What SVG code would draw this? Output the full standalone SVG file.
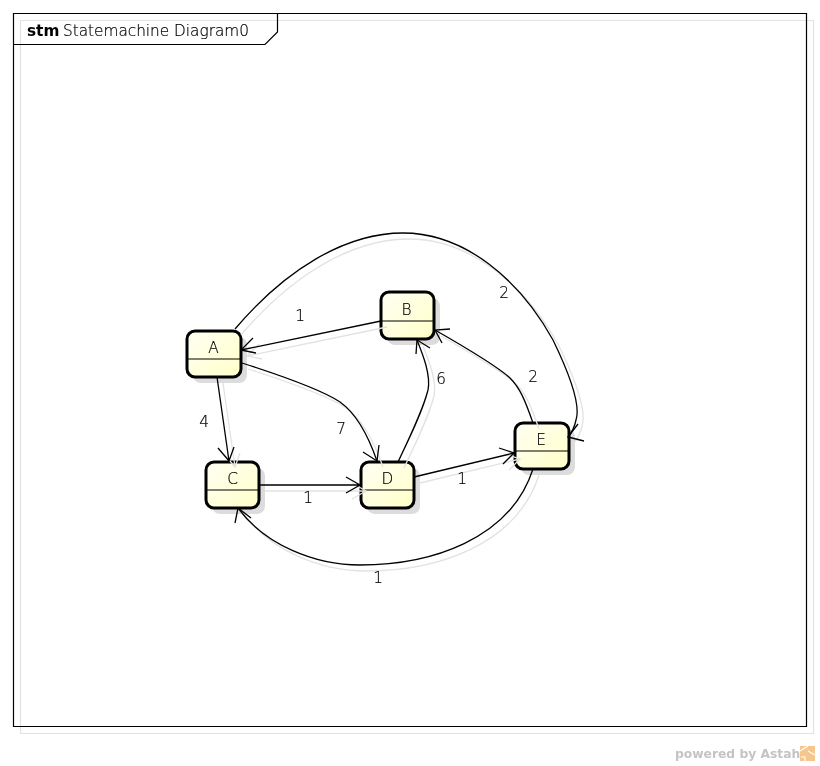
<svg xmlns="http://www.w3.org/2000/svg" width="820" height="766" viewBox="0 0 820 766">
<style>
text{font-family:"DejaVu Sans",sans-serif;font-size:15.3px;font-weight:200;fill:#000;stroke:#000;stroke-width:.2;filter:url(#n)}
.c{text-anchor:middle}
.body{fill:url(#g);stroke:#000;stroke-width:3}
.sh{fill:#dcdcdc}
.div{stroke:#000;stroke-width:1.2}
#edges path,#heads path{fill:none;stroke-width:1.3}
</style>
<defs>
<filter id="n" x="-20%" y="-20%" width="140%" height="140%"><feOffset dx="0" dy="0"/></filter>
<linearGradient id="g" x1="0" y1="0" x2="1" y2="1"><stop offset="0" stop-color="#fffff4"/><stop offset="1" stop-color="#ffffc8"/></linearGradient>
<g id="edges">
<path d="M235,329C285,270 345,233 403,233C465,233 520,280 553,340C570,375 581,405 576,420Q574,430 568,437"/>
<path d="M381,321L241,350M253,338L241,350L256,353"/>
<path d="M217,377L229,461M218,448L229,461L234,447"/>
<path d="M242,363C295,380 325,392 340,402C357,414 368,435 377,461"/>
<path d="M259,485L360,485M346,477L360,485L346,493"/>
<path d="M398,462C410,437 423,410 428,390C431,375 423,355 417,340"/>
<path d="M533,423C525,400 520,388 510,378C497,366 470,350 435,330"/>
<path d="M414,477L514,453M499,448L514,453L503,464"/>
<path d="M533,469C510,540 430,565 360,565C315,565 265,545 238,508"/>
</g>
</defs>
<rect width="820" height="766" fill="#fff"/>
<g id="frame">
<path d="M20.5,20.5H813.5V733.5H20.5Z" fill="none" stroke="#e2e2e2" stroke-width="1.2"/>
<path d="M13.5,13.5H806.5V726.500H13.5ZM13.5,44.500H265L277.500,32V13.500" fill="none" stroke="#000" stroke-width="1.2"/>
<text x="27" y="36" style="font-weight:bold;stroke:none">stm</text>
<text x="63" y="36">Statemachine Diagram0</text>
</g>
<g id="node-A"><rect class="sh" x="193" y="337" width="54" height="46" rx="8"/><rect class="body" x="187" y="331" width="54" height="46" rx="8"/><line class="div" x1="187" y1="359" x2="241" y2="359"/><text class="c" x="213.500" y="353">A</text></g>
<g id="node-B"><rect class="sh" x="387" y="298" width="53" height="47" rx="8"/><rect class="body" x="381" y="292" width="53" height="47" rx="8"/><line class="div" x1="381" y1="321" x2="434" y2="321"/><text class="c" x="406.500" y="315">B</text></g>
<g id="node-C"><rect class="sh" x="212" y="468" width="53" height="46" rx="8"/><rect class="body" x="206" y="462" width="53" height="46" rx="8"/><line class="div" x1="206" y1="490" x2="259" y2="490"/><text class="c" x="232.500" y="484">C</text></g>
<g id="node-D"><rect class="sh" x="367" y="468" width="53" height="46" rx="8"/><rect class="body" x="361" y="462" width="53" height="46" rx="8"/><line class="div" x1="361" y1="490" x2="414" y2="490"/><text class="c" x="387.500" y="484">D</text></g>
<g id="node-E"><rect class="sh" x="521" y="429" width="54" height="46" rx="8"/><rect class="body" x="515" y="423" width="54" height="46" rx="8"/><line class="div" x1="515" y1="451" x2="569" y2="451"/><text class="c" x="541" y="445">E</text></g>
<g id="connectors">
<use href="#edges" transform="translate(6 6)" stroke="#e2e2e2"/>
<use href="#edges" stroke="#000"/>
<g id="heads" stroke="#000">
<path d="M578,424L568,437L584,441"/>
<path d="M363,452L377,461L379,445"/>
<path d="M416,354L417,340L430,348"/>
<path d="M450,329L435,330L442,343"/>
<path d="M235,523L238,508L251,518"/>
</g>
<g id="labels">
<text class="c" x="300" y="321">1</text>
<text class="c" x="204" y="427">4</text>
<text class="c" x="341" y="434">7</text>
<text class="c" x="308" y="503">1</text>
<text class="c" x="441" y="384">6</text>
<text class="c" x="504" y="298">2</text>
<text class="c" x="533" y="382">2</text>
<text class="c" x="462" y="484">1</text>
<text class="c" x="378" y="583">1</text>
</g>
</g>
<g id="footer">
<text x="675" y="758" style="font-weight:bold;font-size:12.3px;fill:#c4c4c4;stroke:none">powered by Astah</text>
<rect x="800" y="746" width="15" height="15" fill="#f7c68c"/>
<path d="M800,751L808,746M808,751L815,755M801,757H805V761" fill="none" stroke="#fff" stroke-width="1.2"/>
</g>
</svg>
